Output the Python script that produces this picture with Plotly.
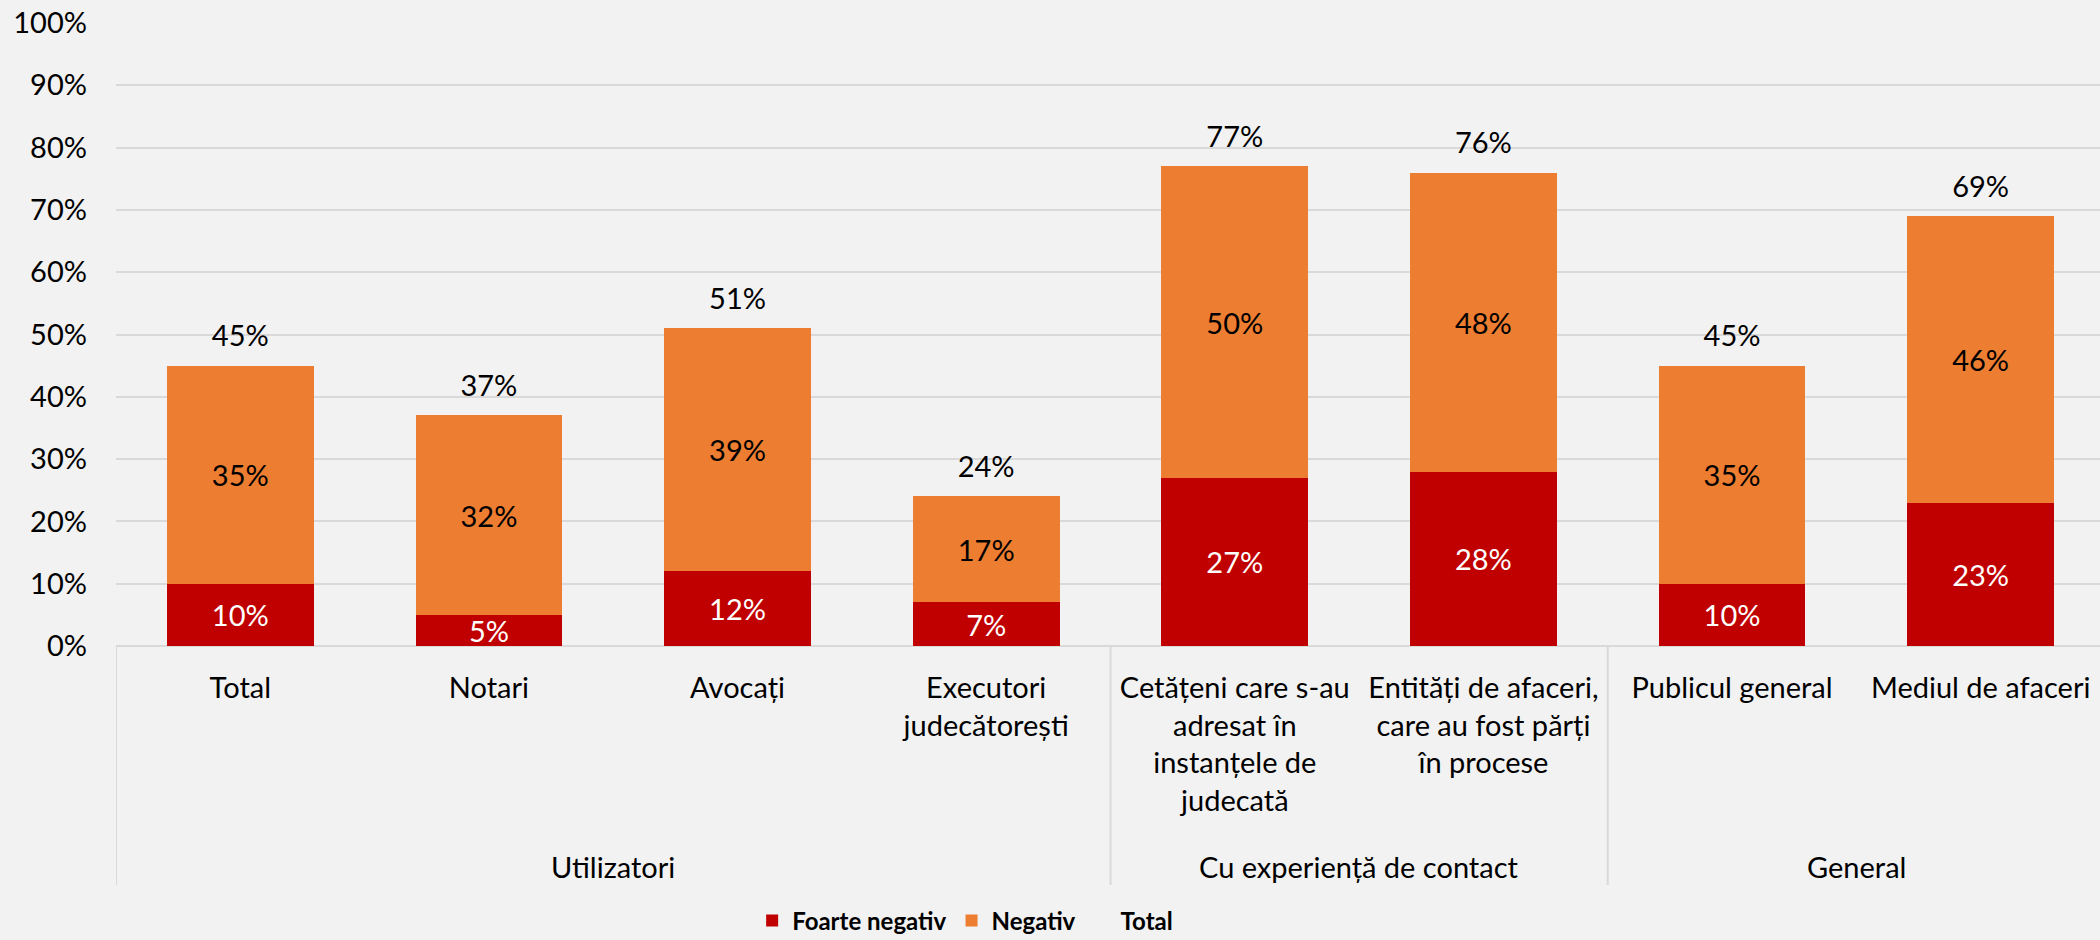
import plotly.graph_objects as go

categories = ["Total", "Notari", "Avocați", "Executori<br>judecătorești",
              "Cetățeni care s-au<br>adresat în<br>instanțele de<br>judecată",
              "Entități de afaceri,<br>care au fost părți<br>în procese",
              "Publicul general", "Mediul de afaceri"]
foarte_negativ = [0.10, 0.05, 0.12, 0.07, 0.27, 0.28, 0.10, 0.23]
negativ = [0.35, 0.32, 0.39, 0.17, 0.50, 0.48, 0.35, 0.46]
total = [0.45, 0.37, 0.51, 0.24, 0.77, 0.76, 0.45, 0.69]
groups = ["Utilizatori", "Cu experiență de contact", "General"]
group_centers = [1.5, 4.5, 6.5]
group_bounds = [-0.5, 3.5, 5.5]

FONT = "Lato"
FS = 29
x = list(range(len(categories)))

fig = go.Figure()
fig.add_trace(go.Bar(
    x=x, y=foarte_negativ, name="Foarte negativ", marker_color="#C00000",
    marker_line_width=0, width=0.59,
    text=[f"{v:.0%}" for v in foarte_negativ], textposition="inside",
    insidetextanchor="middle", constraintext="none",
    textfont=dict(color="white", size=FS, family=FONT)))
fig.add_trace(go.Bar(
    x=x, y=negativ, name="Negativ", marker_color="#ED7D31",
    marker_line_width=0, width=0.59,
    text=[f"{v:.0%}" for v in negativ], textposition="inside",
    insidetextanchor="middle", constraintext="none",
    textfont=dict(color="black", size=FS, family=FONT)))
fig.add_trace(go.Scatter(
    x=x, y=total, name="Total", mode="markers+text",
    marker=dict(size=18, opacity=0, color="rgba(0,0,0,0)"),
    text=[f"{v:.0%}" for v in total], textposition="top center",
    textfont=dict(color="black", size=FS, family=FONT), cliponaxis=False))

L, T, B = 116, 23, 294
plot_h = 940 - T - B

for i, g in enumerate(groups):
    fig.add_annotation(x=group_centers[i], y=(646 - 866) / plot_h, xref="x", yref="paper",
                       text=g, showarrow=False, yanchor="middle",
                       font=dict(size=FS, family=FONT, color="black"))
for b in group_bounds:
    fig.add_shape(type="line", xref="x", yref="paper", x0=b, x1=b, y0=0,
                  y1=(646 - 885) / plot_h, line=dict(color="#D9D9D9", width=2))

fig.update_layout(
    width=2100, height=940,
    margin=dict(l=L, r=0, t=T, b=B, autoexpand=False),
    paper_bgcolor="#F2F2F2", plot_bgcolor="#F2F2F2",
    barmode="stack", bargap=0.41,
    font=dict(family=FONT, size=FS, color="black"),
    showlegend=True,
    legend=dict(orientation="h", x=0.428, xanchor="center",
                y=(646 - 921) / plot_h, yanchor="middle",
                font=dict(size=24, family=FONT, color="black", weight="bold"),
                traceorder="normal", itemsizing="constant",
                bgcolor="rgba(0,0,0,0)"),
    xaxis=dict(tickmode="array", tickvals=x, ticktext=categories,
               range=[-0.5, 7.48], showgrid=False, zeroline=False,
               showline=False, ticks="", tickfont=dict(size=FS, family=FONT),
               ticklabelstandoff=22, automargin=False),
    yaxis=dict(range=[0, 1], dtick=0.1, tickformat=".0%", showgrid=True,
               gridcolor="#D9D9D9", gridwidth=2, zeroline=True,
               zerolinecolor="#D9D9D9", zerolinewidth=2, showline=False,
               ticks="", tickfont=dict(size=FS, family=FONT),
               ticklabelstandoff=28, automargin=False),
)
fig.write_html("out.html", config={"displayModeBar": False},
               post_script="document.body.style.margin='0';document.body.style.overflow='hidden';")
